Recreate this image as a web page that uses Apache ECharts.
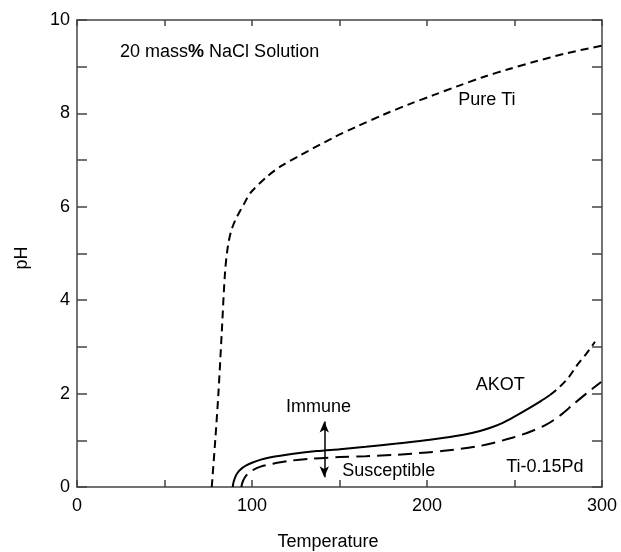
<!DOCTYPE html>
<html>
<head>
<meta charset="utf-8">
<script src="https://cdn.jsdelivr.net/npm/echarts@6/dist/echarts.min.js"></script>
<style>
html,body{margin:0;padding:0;background:#fff;}
#chart{width:621px;height:552px;}
</style>
</head>
<body>
<div id="chart"></div>
<script>
// ---- data ----
var pureTiT  = [77, 79, 80.8, 82.7, 84.6, 86.2, 88, 90.5, 93.5, 96, 98.9, 108.4, 117, 127.4, 146.5, 160, 175, 190, 203.6, 218, 232.2, 246, 260.8, 280, 300];
var pureTiPH = [0, 1.0, 2.0, 3.3, 4.6, 5.15, 5.47, 5.72, 5.93, 6.1, 6.29, 6.64, 6.88, 7.10, 7.48, 7.72, 7.97, 8.20, 8.39, 8.59, 8.78, 8.94, 9.10, 9.29, 9.45];

var akotT  = [89, 89.3, 90, 91, 92.5, 94.5, 97, 100, 104.6, 110, 123.6, 137, 150.3, 165, 182.7, 201.7, 220.8, 230.3, 237, 243.6, 251, 258.9, 265, 270.3];
var akotPH = [0, 0.08, 0.17, 0.26, 0.34, 0.41, 0.47, 0.52, 0.58, 0.63, 0.71, 0.77, 0.81, 0.86, 0.93, 1.01, 1.12, 1.2, 1.28, 1.38, 1.53, 1.7, 1.84, 1.97];

var akotExtT  = [270.3, 276, 281, 286, 291, 296];
var akotExtPH = [1.97, 2.15, 2.35, 2.62, 2.85, 3.11];

var tiPdT  = [94, 94.3, 95, 96, 97.5, 100, 103, 107, 112, 123.6, 135, 150, 165, 182.7, 200, 211.2, 230.3, 249.3, 260, 268.4, 276, 283.6, 291, 299.5];
var tiPdPH = [0, 0.07, 0.14, 0.21, 0.28, 0.35, 0.41, 0.46, 0.5, 0.57, 0.61, 0.64, 0.66, 0.69, 0.74, 0.78, 0.88, 1.06, 1.2, 1.34, 1.53, 1.77, 2.0, 2.25];

var xTicks = [0, 100, 200, 300];
var yTicks = [0, 2, 4, 6, 8, 10];

var noteTexts = ['Pure Ti', 'AKOT', 'Immune', 'Susceptible', 'Ti-0.15Pd'];
var noteT     = [234.2, 241.9, 138, 178.1, 267.4];
var notePH    = [8.29, 2.18, 1.72, 0.35, 0.42];

var titleText = '{a|20 mass}{b|%}{a| NaCl Solution}';
var titleT = 81.5, titlePH = 9.31;

var arrowT = 141.3, arrowTop = 1.4, arrowBottom = 0.21;

function zip(a, b) { return a.map(function (v, i) { return [v, b[i]]; }); }

var FONT = 'Liberation Sans, Arial, sans-serif';
var FS = 18;

var chart = echarts.init(document.getElementById('chart'), null, {renderer: 'canvas'});

var axisLineStyle = {color: '#444', width: 1.5};

var noteData = noteTexts.map(function (t, i) {
  return {value: [noteT[i], notePH[i]], name: t};
});
noteData.push({
  value: [titleT, titlePH], name: 'title',
  label: {
    formatter: titleText,
    rich: {
      a: {fontFamily: FONT, fontSize: FS, color: '#000'},
      b: {fontFamily: FONT, fontSize: FS, color: '#000', fontWeight: 'bold'}
    }
  }
});

var option = {
  backgroundColor: '#fff',
  animation: false,
  grid: {left: 77, right: 19, top: 20, bottom: 65, containLabel: false},
  xAxis: [{
    type: 'value', min: 0, max: 300, interval: 50, position: 'bottom',
    axisLine: {show: true, onZero: false, lineStyle: axisLineStyle},
    axisTick: {show: true, inside: true, length: 7, lineStyle: axisLineStyle},
    axisLabel: {
      margin: 10, fontFamily: FONT, fontSize: FS, color: '#000',
      formatter: function (v) { return xTicks.indexOf(v) >= 0 ? String(v) : ''; }
    },
    splitLine: {show: false}
  }, {
    type: 'value', min: 0, max: 300, interval: 50, position: 'top',
    axisLine: {show: true, onZero: false, lineStyle: axisLineStyle},
    axisTick: {show: true, inside: true, length: 6, lineStyle: axisLineStyle},
    axisLabel: {show: false},
    splitLine: {show: false}
  }],
  yAxis: [{
    type: 'value', min: 0, max: 10, interval: 1, position: 'left',
    axisLine: {show: true, onZero: false, lineStyle: axisLineStyle},
    axisTick: {show: true, inside: true, length: 10, lineStyle: axisLineStyle},
    axisLabel: {
      margin: 7, fontFamily: FONT, fontSize: FS, color: '#000',
      formatter: function (v) { return yTicks.indexOf(v) >= 0 ? String(v) : ''; }
    },
    splitLine: {show: false}
  }, {
    type: 'value', min: 0, max: 10, interval: 1, position: 'right',
    axisLine: {show: true, onZero: false, lineStyle: axisLineStyle},
    axisTick: {show: true, inside: true, length: 10, lineStyle: axisLineStyle},
    axisLabel: {show: false},
    splitLine: {show: false}
  }],
  graphic: [{
    type: 'text', x: 328, y: 542,
    style: {text: 'Temperature', font: FS + 'px ' + FONT, fill: '#000', textAlign: 'center', textVerticalAlign: 'middle'}
  }, {
    type: 'text', x: 22, y: 258, rotation: Math.PI / 2,
    style: {text: 'pH', font: FS + 'px ' + FONT, fill: '#000', textAlign: 'center', textVerticalAlign: 'middle'}
  }],
  series: [{
    name: 'Pure Ti', type: 'line', data: zip(pureTiT, pureTiPH),
    smooth: 0.3, showSymbol: false, silent: true,
    lineStyle: {color: '#000', width: 2, type: [8, 5]}
  }, {
    name: 'AKOT', type: 'line', data: zip(akotT, akotPH),
    smooth: 0.3, showSymbol: false, silent: true,
    lineStyle: {color: '#000', width: 2, type: 'solid'}
  }, {
    name: 'AKOT ext', type: 'line', data: zip(akotExtT, akotExtPH),
    smooth: 0.3, showSymbol: false, silent: true,
    lineStyle: {color: '#000', width: 2, type: [8, 5]}
  }, {
    name: 'Ti-0.15Pd', type: 'line', data: zip(tiPdT, tiPdPH),
    smooth: 0.3, showSymbol: false, silent: true,
    lineStyle: {color: '#000', width: 2, type: [14, 7]}
  }, {
    name: 'notes', type: 'scatter', data: noteData, symbolSize: 0, silent: true,
    itemStyle: {opacity: 1, color: '#000'},
    label: {
      show: true, position: 'inside', fontFamily: FONT, fontSize: FS, color: '#000', opacity: 1,
      formatter: function (p) { return p.name; }
    },
    markLine: {
      silent: true, symbol: ['arrow', 'arrow'], symbolSize: [7, 11],
      label: {show: false},
      lineStyle: {color: '#000', width: 1.5, type: 'solid'},
      data: [[{coord: [arrowT, arrowTop]}, {coord: [arrowT, arrowBottom]}]]
    }
  }]
};
chart.setOption(option);
</script>
</body>
</html>
